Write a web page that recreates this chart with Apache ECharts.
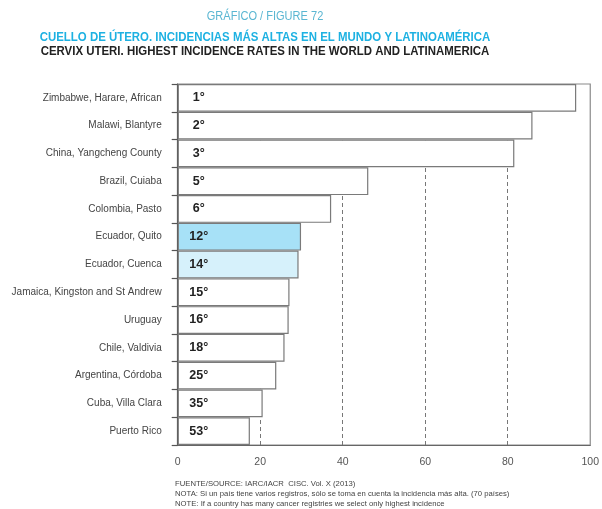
<!DOCTYPE html>
<html><head><meta charset="utf-8">
<script src="https://cdn.jsdelivr.net/npm/echarts@6/dist/echarts.min.js"></script>
<style>html,body{margin:0;padding:0;background:#fff}#c{width:602px;height:509px}</style>
</head><body><div id="c"></div>
<script>
const categories = ["Zimbabwe, Harare, African","Malawi, Blantyre","China, Yangcheng County","Brazil, Cuiaba","Colombia, Pasto","Ecuador, Quito","Ecuador, Cuenca","Jamaica, Kingston and St Andrew","Uruguay","Chile, Valdivia","Argentina, Córdoba","Cuba, Villa Clara","Puerto Rico"];
const values = [96.6, 86.0, 81.6, 46.2, 37.2, 29.9, 29.3, 27.1, 26.9, 25.9, 23.9, 20.6, 17.5];
const ranks = ["1°","2°","3°","5°","6°","12°","14°","15°","16°","18°","25°","35°","53°"];
const highlight = {"Ecuador, Quito":"#a7e1f7","Ecuador, Cuenca":"#d6f1fb"};
const xTicks = [0,20,40,60,80,100];

const font = "'Liberation Sans',Arial,sans-serif";
const chart = echarts.init(document.getElementById('c'), null, {renderer:'canvas'});
chart.setOption({
  animation:false,
  backgroundColor:'#fff',
  grid:{left:177.7, right:8.5, top:84, bottom:64, show:true, borderColor:'#8a8a8a', borderWidth:1.2, containLabel:false},
  xAxis:{type:'value', min:xTicks[0], max:xTicks[xTicks.length-1], interval:20,
    axisLine:{show:true, lineStyle:{color:'#666', width:1.2}},
    axisTick:{show:false},
    axisLabel:{color:'#555', fontSize:10.5, fontFamily:font, margin:12},
    splitLine:{show:true, showMinLine:false, showMaxLine:false, lineStyle:{type:[4,3], color:'#777', width:1}}},
  yAxis:{type:'category', data:categories, inverse:true,
    axisLine:{show:true, lineStyle:{color:'#555', width:1.2}},
    axisTick:{show:true, length:6, lineStyle:{color:'#555', width:1.2}},
    axisLabel:{color:'#444', fontSize:10, fontFamily:font, margin:16}},
  series:[{type:'bar', barCategoryGap:'0%',
    data: values.map((v,i)=>({value:v, itemStyle:{color: highlight[categories[i]] || '#fff'}})),
    itemStyle:{borderColor:'#7a7a7a', borderWidth:1.2},
    label:{show:true, position:[21,'50%'], align:'center', verticalAlign:'middle',
      formatter:p=>ranks[p.dataIndex], color:'#222', fontSize:12.5, fontWeight:'bold', fontFamily:font}
  }],
  graphic:[
    {type:'text', x:265, y:17, scaleX:0.92, style:{text:'GRÁFICO / FIGURE 72', fill:'#5ab6d2', font:"12px "+font, textAlign:'center', textVerticalAlign:'middle'}},
    {type:'text', x:265, y:37, scaleX:0.88, style:{text:'CUELLO DE ÚTERO. INCIDENCIAS MÁS ALTAS EN EL MUNDO Y LATINOAMÉRICA', fill:'#1db1e2', font:"bold 13px "+font, textAlign:'center', textVerticalAlign:'middle'}},
    {type:'text', x:265, y:51, scaleX:0.88, style:{text:'CERVIX UTERI. HIGHEST INCIDENCE RATES IN THE WORLD AND LATINAMERICA', fill:'#222', font:"bold 13px "+font, textAlign:'center', textVerticalAlign:'middle'}},
    {type:'text', x:175, y:484, style:{text:'FUENTE/SOURCE: IARC/IACR  CISC. Vol. X (2013)', fill:'#444', font:"7.7px "+font, textVerticalAlign:'middle'}},
    {type:'text', x:175, y:494, style:{text:'NOTA: Si un país tiene varios registros, sólo se toma en cuenta la incidencia más alta. (70 países)', fill:'#444', font:"7.7px "+font, textVerticalAlign:'middle'}},
    {type:'text', x:175, y:503.5, style:{text:'NOTE: If a country has many cancer registries we select only highest incidence', fill:'#444', font:"7.7px "+font, textVerticalAlign:'middle'}}
  ]
});
</script></body></html>
